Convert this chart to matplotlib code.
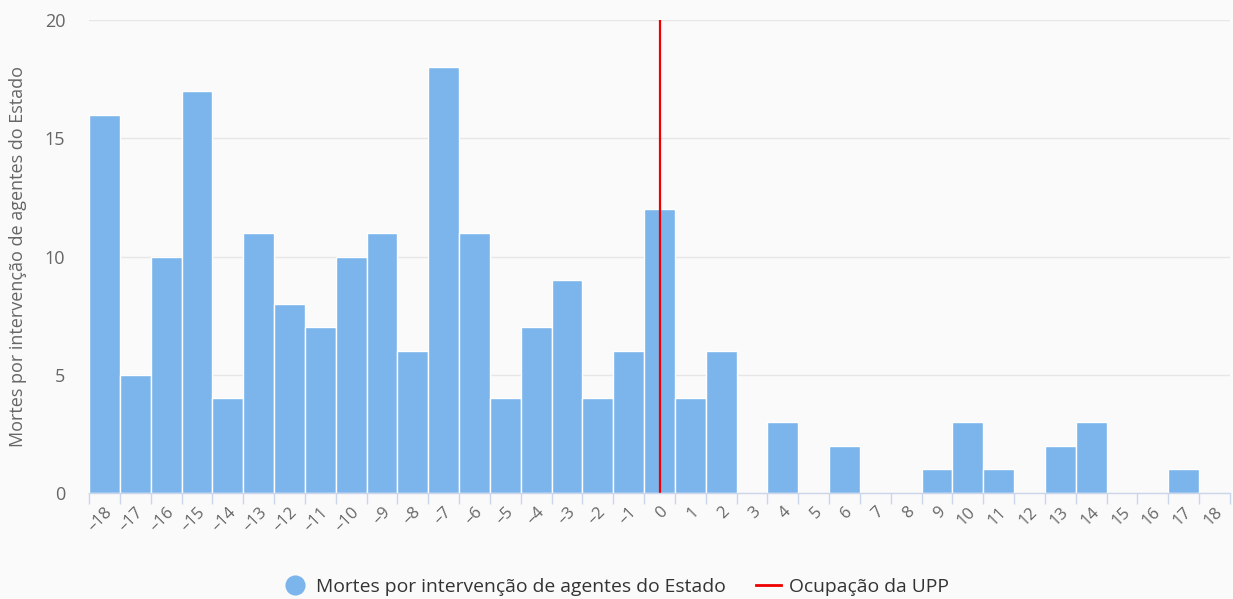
import matplotlib
matplotlib.use("Agg")
import matplotlib.pyplot as plt
from matplotlib.lines import Line2D
import numpy as np

categories = list(range(-18, 19))
mortes = [16, 5, 10, 17, 4, 11, 8, 7, 10, 11, 6, 18, 11, 4, 7, 9, 4, 6,
          12, 4, 6, 0, 3, 0, 2, 0, 0, 1, 3, 1, 0, 2, 3, 0, 0, 1, 0]
ocupacao_x = 0
y_ticks = [0, 5, 10, 15, 20]
series_name = "Mortes por intervenção de agentes do Estado"
line_name = "Ocupação da UPP"

plt.rcParams['font.family'] = ['Open Sans', 'DejaVu Sans']
W, H = 1233, 599
fig = plt.figure(figsize=(W / 100, H / 100), dpi=100, facecolor='#fafafa')
ax = fig.add_axes([89 / W, (H - 493) / H, (1230 - 89) / W, (493 - 20) / H])
ax.set_facecolor('#fafafa')

ax.bar(categories, mortes, width=1.0, color='#7cb5ec', edgecolor='white',
       linewidth=1, zorder=2)
ax.axvline(ocupacao_x, color='#ee0000', linewidth=1.6, zorder=3)

ax.set_xlim(-18.5, 18.5)
ax.set_ylim(0, 20)
ax.set_yticks(y_ticks)
ax.yaxis.grid(True, color='#e6e6e6', linewidth=1)
ax.set_axisbelow(True)
for s in ['top', 'right', 'left']:
    ax.spines[s].set_visible(False)
ax.spines['bottom'].set_color('#ccd6eb')
ax.spines['bottom'].set_linewidth(1)
ax.spines['bottom'].set_zorder(4)

ax.set_xticks(categories)
ax.set_xticklabels([str(c).replace('-', '–') for c in categories], rotation=45,
                   ha='right', rotation_mode='anchor', color='#666666', fontsize=12)
ax.set_xticks(np.arange(-18.5, 19, 1), minor=True)
ax.tick_params(axis='x', which='major', length=0, pad=8)
ax.tick_params(axis='x', which='minor', length=8, color='#ccd6eb', width=1)
ax.tick_params(axis='y', length=0, pad=17, labelsize=13, labelcolor='#666666')

ax.set_ylabel(series_name, fontsize=13, color='#666666', labelpad=13)

handles = [Line2D([0], [0], marker='o', linestyle='none', markersize=13.5,
                  markerfacecolor='#7cb5ec', markeredgecolor='#7cb5ec', label=series_name),
           Line2D([0], [0], color='#ee0000', linewidth=2, label=line_name)]
fig.legend(handles=handles, loc='center', bbox_to_anchor=(616 / W, 1 - 587 / H),
           ncol=2, frameon=False, fontsize=13.9, labelcolor='#333333',
           handlelength=1.3, handletextpad=0.4, columnspacing=1.6)

fig.savefig('out.png', dpi=100, facecolor='#fafafa')
